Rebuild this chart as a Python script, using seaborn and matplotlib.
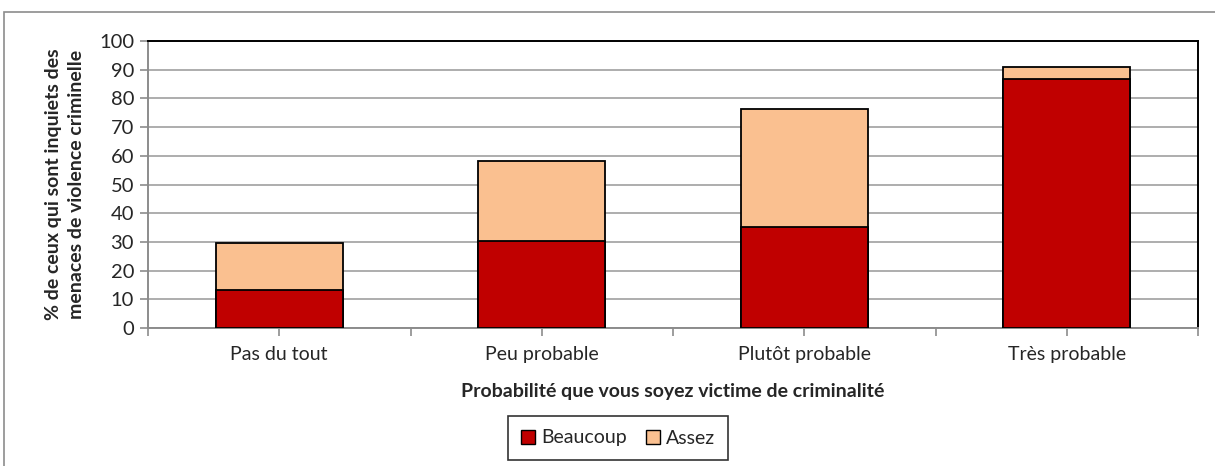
import matplotlib.pyplot as plt
import pandas as pd
import seaborn as sns
from matplotlib.patches import Patch, Rectangle

categories = ['Pas du tout', 'Peu probable', 'Plutôt probable', 'Très probable']
beaucoup = [13.2, 30.4, 35.3, 86.8]
assez = [16.4, 27.9, 41.0, 4.2]

df = pd.DataFrame({'cat': categories, 'Beaucoup': beaucoup, 'Assez': assez})
df['total'] = df['Beaucoup'] + df['Assez']

sns.set_theme(style='white')
plt.rcParams['font.family'] = ['Lato', 'DejaVu Sans']

fig = plt.figure(figsize=(12.15, 4.66), dpi=100)
ax = fig.add_axes([148 / 1215, 1 - 328 / 466, (1198 - 148) / 1215, (328 - 41) / 466])

# outer chart frame (only top/left visible in the original crop)
fig.patches.append(Rectangle((4 / 1215, -0.1), 1.2, 1 - 12 / 466 + 0.1,
                             transform=fig.transFigure, fill=False,
                             edgecolor='#8c8c8c', linewidth=1.2))

c_beau = '#C00000'
c_assez = '#FAC090'

sns.barplot(data=df, x='cat', y='total', color=c_assez, width=0.485,
            edgecolor='black', linewidth=1.3, ax=ax, zorder=3, saturation=1)
sns.barplot(data=df, x='cat', y='Beaucoup', color=c_beau, width=0.485,
            edgecolor='black', linewidth=1.3, ax=ax, zorder=4, saturation=1)

ax.set_ylim(0, 100)
ax.set_xlim(-0.5, 3.5)
ax.set_yticks(range(0, 101, 10))
ax.yaxis.grid(True, color='#a0a0a0', linewidth=1.2, zorder=0)
ax.set_axisbelow(True)

ax.set_xticks([i * 0.5 - 0.5 for i in range(9)])
ax.set_xticklabels(['' if i % 2 == 0 else categories[i // 2] for i in range(9)])
ax.tick_params(axis='x', length=6, width=1.2, color='#8c8c8c', direction='out',
               labelsize=14, pad=7, bottom=True)
ax.tick_params(axis='y', length=6, width=1.2, color='#8c8c8c', direction='out',
               labelsize=14.5, pad=4, left=True)

for s in ['left', 'bottom']:
    ax.spines[s].set_color('#8c8c8c')
    ax.spines[s].set_linewidth(1.4)
for s in ['top', 'right']:
    ax.spines[s].set_color('black')
    ax.spines[s].set_linewidth(1.4)

ax.set_xlabel('Probabilité que vous soyez victime de criminalité',
              fontsize=14, fontweight='bold', labelpad=14)
ax.set_ylabel('% de ceux qui sont inquiets des\nmenaces de violence criminelle',
              fontsize=14, fontweight='bold', labelpad=10, linespacing=1.4)

handles = [Patch(facecolor=c_beau, edgecolor='black', label='Beaucoup'),
           Patch(facecolor=c_assez, edgecolor='black', label='Assez')]
leg = fig.legend(handles=handles, loc='center', ncol=2,
                 bbox_to_anchor=(618 / 1215, 1 - 438 / 466), frameon=True,
                 fancybox=False, edgecolor='black', fontsize=14,
                 handlelength=0.7, handleheight=0.7, handletextpad=0.3,
                 columnspacing=1.0, borderpad=0.7)
leg.get_frame().set_linewidth(1.2)

fig.savefig('out.png', dpi=100)
